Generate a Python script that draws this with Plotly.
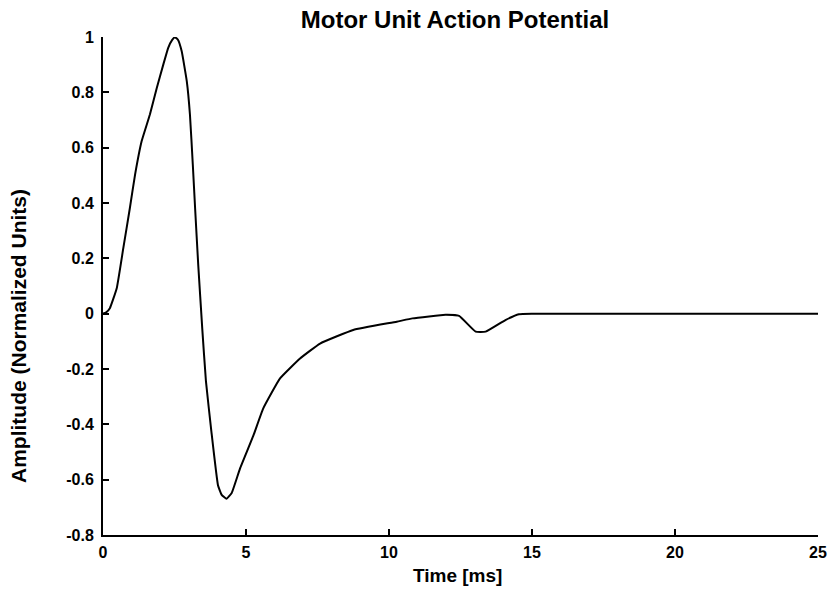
import plotly.graph_objects as go

time_ms = [0, 0.1, 0.24, 0.48, 0.71, 0.94, 1.12, 1.35, 1.64, 1.88, 2.11, 2.28, 2.42, 2.52, 2.62,
           2.75, 2.93, 3.04, 3.14, 3.22, 3.33, 3.47, 3.6, 3.79, 4.02, 4.15, 4.32, 4.5, 4.79,
           5.26, 5.6, 6.19, 6.89, 7.59, 8.75, 10.27, 10.82, 11.98, 12.45, 13.03, 13.38, 14.07,
           14.54, 15.0, 15.5, 16.0, 25.0]
amplitude = [0, 0.004, 0.02, 0.092, 0.237, 0.382, 0.502, 0.623, 0.72, 0.816, 0.901, 0.961, 0.99,
             0.999, 0.99, 0.949, 0.84, 0.72, 0.539, 0.382, 0.176, -0.053, -0.245, -0.426,
             -0.62, -0.655, -0.669, -0.648, -0.56, -0.44, -0.343, -0.234, -0.162, -0.108,
             -0.059, -0.029, -0.017, -0.004, -0.008, -0.065, -0.065, -0.023, -0.002, 0.0, 0.0,
             0.0, 0.0]

x_ticks = [0, 5, 10, 15, 20, 25]
y_ticks = [-0.8, -0.6, -0.4, -0.2, 0, 0.2, 0.4, 0.6, 0.8, 1]
y_tick_labels = ["-0.8", "-0.6", "-0.4", "-0.2", "0", "0.2", "0.4", "0.6", "0.8", "1"]

fig = go.Figure()
fig.add_trace(go.Scatter(x=time_ms, y=amplitude, mode="lines",
                         line=dict(color="black", width=2, shape="spline", smoothing=0.35),
                         showlegend=False))

font_family = "Liberation Sans, Arial, sans-serif"
axis_common = dict(showgrid=False, zeroline=False, automargin=False,
                   showline=True, linecolor="black", linewidth=2, mirror=False,
                   ticks="inside", ticklen=6, tickwidth=2, tickcolor="black",
                   tickfont=dict(family=font_family, size=16, color="black", weight="bold"))

fig.update_layout(
    width=830, height=589,
    margin=dict(l=103, r=12, t=37, b=54),
    paper_bgcolor="white", plot_bgcolor="white",
    title=dict(text="<b>Motor Unit Action Potential</b>", x=455 / 830, xanchor="center",
               y=1 - 20 / 589, yanchor="middle",
               font=dict(family=font_family, size=24, color="black")),
    xaxis=dict(range=[0, 25], tickvals=x_ticks, ticklabelstandoff=2, **axis_common),
    yaxis=dict(range=[-0.8, 1.0], tickvals=y_ticks, ticktext=y_tick_labels,
               ticklabelstandoff=4, **axis_common),
    annotations=[
        dict(text="<b>Time [ms]</b>", xref="paper", yref="paper", x=(457 - 103) / 715,
             y=-40 / 498, xanchor="center", yanchor="middle", showarrow=False,
             font=dict(family=font_family, size=19, color="black")),
        dict(text="<b>Amplitude (Normalized Units)</b>", xref="paper", yref="paper",
             x=(18 - 103) / 715, y=(535 - 336) / 498, textangle=-90,
             xanchor="center", yanchor="middle", showarrow=False,
             font=dict(family=font_family, size=21, color="black")),
    ],
)

fig.write_html("out.html")
